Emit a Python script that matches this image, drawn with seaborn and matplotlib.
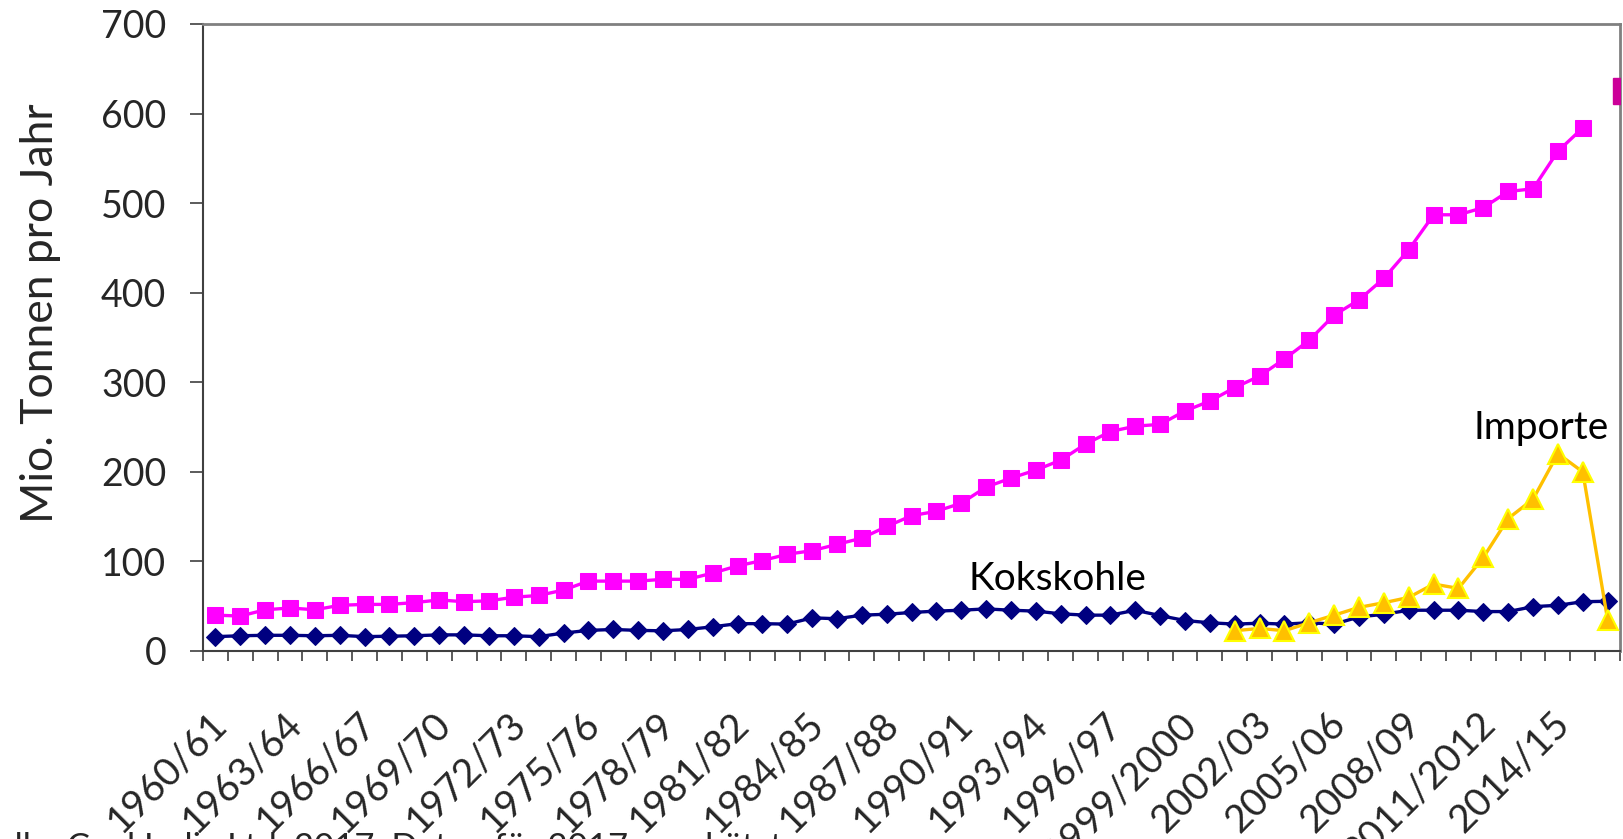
import numpy as np
import pandas as pd
import matplotlib
matplotlib.use("Agg")
import matplotlib.pyplot as plt
import matplotlib.transforms as mtransforms
import seaborn as sns

# Fiscal years on the category axis
years = [
    "1960/61", "1961/62", "1962/63", "1963/64", "1964/65", "1965/66", "1966/67",
    "1967/68", "1968/69", "1969/70", "1970/71", "1971/72", "1972/73", "1973/74",
    "1974/75", "1975/76", "1976/77", "1977/78", "1978/79", "1979/80", "1980/81",
    "1981/82", "1982/83", "1983/84", "1984/85", "1985/86", "1986/87", "1987/88",
    "1988/89", "1989/90", "1990/91", "1991/92", "1992/93", "1993/94", "1994/95",
    "1995/96", "1996/97", "1997/98", "1998/99", "1999/2000", "2000/01", "2001/02",
    "2002/03", "2003/04", "2004/05", "2005/06", "2006/07", "2007/08", "2008/09",
    "2009/10", "2010/11", "2011/2012", "2012/13", "2013/14", "2014/15", "2015/16",
    "2016/17",
]

# Total coal production (Mio. t), 1960/61 - 2015/16
production = [
    40, 39, 46, 48, 46, 51, 52, 52, 54, 57, 55, 56, 60, 62, 68, 78,
    78, 78, 80, 80, 87, 95, 101, 108, 112, 119, 126, 139, 151, 156,
    165, 183, 193, 202, 213, 231, 245, 251, 253, 268, 279, 294, 307,
    326, 347, 375, 392, 416, 448, 487, 487, 495, 513, 516, 558, 584,
]

# Estimate for 2017
estimate_2017 = 625

# Coking coal (Kokskohle), 1960/61 - 2016/17
coking_coal = [
    16, 17, 17.5, 17.5, 17, 17.5, 16, 16.5, 17, 18, 18, 17, 17, 16,
    20, 23, 24, 23, 22.5, 24, 27, 30.5, 30.5, 30, 37, 36, 40, 41,
    43, 44.5, 45.5, 47, 45.5, 44.5, 41.5, 40, 40, 45.5, 39.5, 34,
    31.5, 30, 31, 30, 31.5, 30, 38, 41, 45.5, 45.5, 45.5, 44, 44,
    49.5, 51, 55, 55.5,
]

# Imports (Importe), 2001/02 - 2016/17
imports_start = 41
imports = [
    22.6, 25.2, 22.6, 31.6, 40, 48.7, 53.9, 59.8, 74.7, 69.9,
    104.4, 147.9, 169.5, 220.4, 199.9, 34.6,
]

sns.set_theme(style="white")
plt.rcParams["font.family"] = ["Lato", "DejaVu Sans"]

fig = plt.figure(figsize=(16.23, 8.39), dpi=100)
ax = fig.add_axes([0.1251, 0.2241, 0.8731, 0.7473])

df_prod = pd.DataFrame({"x": np.arange(len(production)), "y": production})
df_coke = pd.DataFrame({"x": np.arange(len(coking_coal)), "y": coking_coal})
df_imp = pd.DataFrame({"x": np.arange(imports_start, imports_start + len(imports)),
                       "y": imports})

sns.lineplot(data=df_prod, x="x", y="y", ax=ax, color="#FF00FF", lw=2.4,
             marker="s", markersize=11, markeredgecolor="#FF00FF",
             markerfacecolor="#FF00FF", zorder=3)
sns.lineplot(data=df_coke, x="x", y="y", ax=ax, color="#000080", lw=2.4,
             marker="D", markersize=9.5, markeredgecolor="#000080",
             markerfacecolor="#000080", zorder=4)
sns.lineplot(data=df_imp, x="x", y="y", ax=ax, color="#FFC000", lw=2.4,
             marker="^", markersize=15, markeredgecolor="#FFFF00",
             markeredgewidth=1.5, markerfacecolor="#FFC000", zorder=5)

# 2017 estimate, placed at the right edge of the plot
ax.plot([len(years) - 0.25], [estimate_2017], marker="s", markersize=19,
        color="#CC0099", linestyle="none", zorder=6)

ax.set_xlim(-0.5, len(years) - 0.5)
ax.set_ylim(0, 700)
ax.set_yticks(np.arange(0, 701, 100))
ax.tick_params(axis="y", labelsize=27, length=9.5, width=1.2, color="#404040",
               pad=17, left=True, direction="out")

# Tick marks between categories, labels on every third category
ax.set_xticks(np.arange(-0.5, len(years), 1.0), minor=False)
ax.set_xticklabels([])
ax.set_xticks(np.arange(0, len(years), 3), minor=True)
ax.set_xticklabels([years[i] for i in range(0, len(years), 3)], minor=True,
                   rotation=45, ha="right", rotation_mode="anchor", fontsize=28)
ax.tick_params(axis="x", which="major", length=7.5, width=1.2, color="#404040",
               bottom=True, direction="out")
ax.tick_params(axis="x", which="minor", length=0, pad=39)
shift = mtransforms.ScaledTranslation(-5 / 72, 0, fig.dpi_scale_trans)
for lbl in ax.get_xticklabels(minor=True):
    lbl.set_transform(lbl.get_transform() + shift)

ax.set_xlabel("")
ax.set_ylabel("Mio. Tonnen pro Jahr", fontsize=32)
ax.yaxis.set_label_coords(-0.100, 0.539)

for side in ["left", "bottom"]:
    ax.spines[side].set_color("#404040")
    ax.spines[side].set_linewidth(1.5)
for side in ["top", "right"]:
    ax.spines[side].set_color("#808080")
    ax.spines[side].set_linewidth(2)
ax.grid(False)

ax.text(30.3, 68, "Kokskohle", fontsize=28, ha="left", va="baseline", color="black")
ax.text(50.6, 237, "Importe", fontsize=28, ha="left", va="baseline", color="black")

# Source line, running off the bottom edge of the figure
fig.text(783 / 1623, 1 - 858 / 839,
         "Quelle: Coal India Ltd. 2017, Daten für 2017 geschätzt",
         fontsize=25, ha="right", va="baseline")

fig.savefig("out.png", dpi=100, facecolor="white")
